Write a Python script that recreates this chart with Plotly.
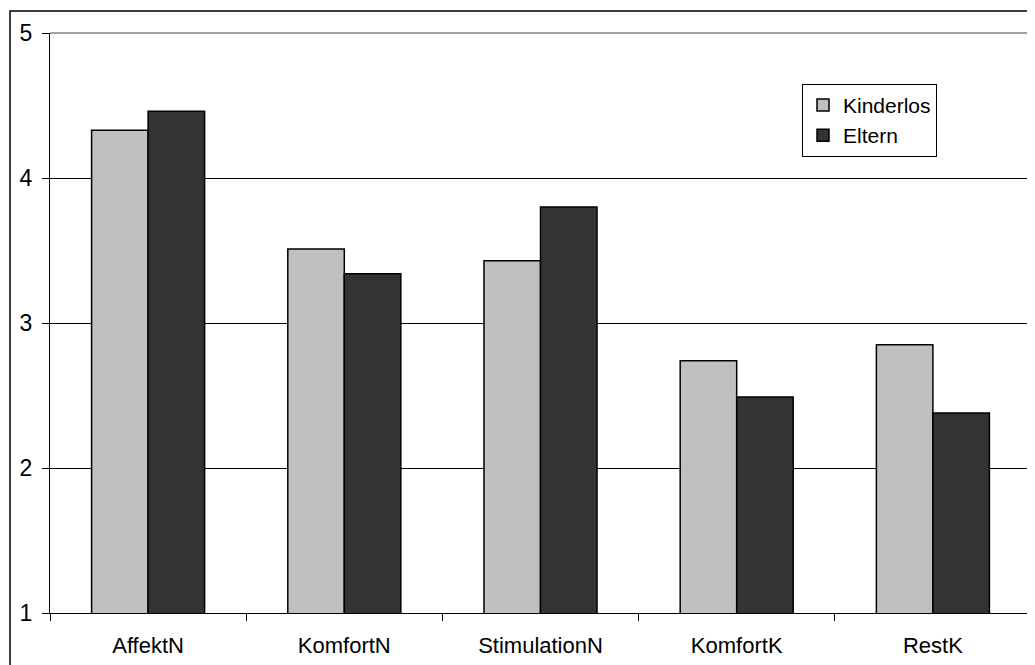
import plotly.graph_objects as go

categories = ["AffektN", "KomfortN", "StimulationN", "KomfortK", "RestK"]
kinderlos = [4.33, 3.51, 3.43, 2.74, 2.85]
eltern = [4.46, 3.34, 3.80, 2.49, 2.38]
y_ticks = [1, 2, 3, 4, 5]

# page body has an 8px margin; positions below are in figure coordinates
OFF = 8
W, H = 1035, 665
L, T = 50 - OFF, 31 - OFF
R = W - (1031 - OFF)
B = H - (613 - OFF)
pw = W - L - R
ph = H - T - B

def px_to_paper_x(px):
    return (px - OFF - L) / pw

def px_to_paper_y(py):
    return (H - B - (py - OFF)) / ph

fig = go.Figure()
fig.add_trace(go.Bar(name="Kinderlos", x=categories, y=kinderlos,
                     marker=dict(color="#C0C0C0", line=dict(color="#000000", width=1.5))))
fig.add_trace(go.Bar(name="Eltern", x=categories, y=eltern,
                     marker=dict(color="#333333", line=dict(color="#000000", width=1.5))))

fig.update_layout(
    width=W, height=H,
    margin=dict(l=L, r=R, t=T, b=B),
    paper_bgcolor="white", plot_bgcolor="white",
    barmode="group", bargap=0.424, bargroupgap=0,
    font=dict(family="Arial, Liberation Sans, sans-serif", color="#000000"),
    showlegend=True,
    legend=dict(x=px_to_paper_x(802), y=px_to_paper_y(82), xanchor="left", yanchor="top",
                bordercolor="#000000", borderwidth=1, bgcolor="white",
                font=dict(size=21, family="Arial, Liberation Sans, sans-serif"),
                tracegroupgap=0, itemwidth=30),
    xaxis=dict(showline=True, linecolor="#000000", linewidth=1.2,
               ticks="outside", tickson="boundaries", ticklen=7, tickcolor="#000000",
               tickfont=dict(size=22), showgrid=False, fixedrange=True,
               ticklabelstandoff=12),
    yaxis=dict(range=[1, 5], tickvals=y_ticks, showline=True, linecolor="#000000", linewidth=1.2,
               ticks="outside", ticklen=7, tickcolor="#000000",
               tickfont=dict(size=23), showgrid=True, gridcolor="#000000", gridwidth=1,
               zeroline=False, ticklabelstandoff=5),
    shapes=[
        dict(type="line", xref="paper", yref="paper", x0=0, x1=1, y0=1, y1=1,
             line=dict(color="#808080", width=1.5), layer="above"),
        dict(type="line", xref="paper", yref="paper", x0=1, x1=1, y0=0, y1=1,
             line=dict(color="#808080", width=1.5), layer="above"),
        dict(type="rect", xref="paper", yref="paper",
             x0=px_to_paper_x(10), x1=px_to_paper_x(1100),
             y0=px_to_paper_y(720), y1=px_to_paper_y(OFF + 1),
             line=dict(color="#000000", width=1.5), layer="above"),
    ],
)

fig.write_html("out.html")
